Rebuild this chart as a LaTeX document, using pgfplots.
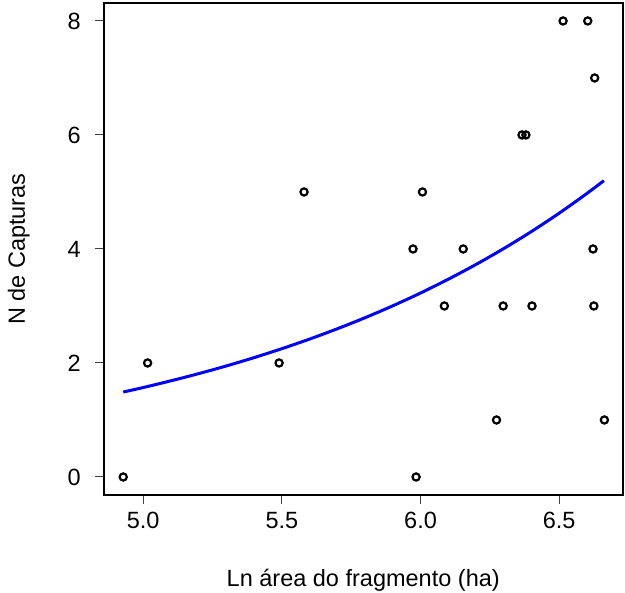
\documentclass[border=0pt]{standalone}
\usepackage{pgfplots}
\pgfplotsset{compat=1.18}
\usepackage{fontspec}
\setmainfont{Liberation Sans}
\begin{document}
\begin{tikzpicture}[font=\fontsize{23.5pt}{28pt}\selectfont]
\useasboundingbox (-103.8pt,-98pt) rectangle (521.2pt,495pt);
\begin{axis}[
  at={(0pt,0pt)}, anchor=south west,
  scale only axis, width=518.9pt, height=491.7pt,
  xmin=4.858, xmax=6.729, ymin=-0.316, ymax=8.31,
  xtick={5,5.5,6,6.5}, ytick={0,2,4,6,8},
  xticklabels={5.0,5.5,6.0,6.5},
  tick align=outside,
  major tick length=9pt,
  major tick style={line width=1pt, black!75},
  axis line style={line width=2.3pt, black},
  /pgf/number format/assume math mode=true,
  xticklabel style={anchor=north, inner sep=0pt, yshift=-8pt},
  yticklabel style={anchor=east, inner sep=0pt, xshift=-14pt},
  every axis x label/.style={at={(axis description cs:0.5,0)}, anchor=base, yshift=-91.7pt},
  every axis y label/.style={at={(axis description cs:0,0.5)}, xshift=-79pt, rotate=90, anchor=base},
  xlabel={Ln área do fragmento (ha)},
  ylabel={N de Capturas},
  clip=false,
  xtick pos=bottom, ytick pos=left,
]
\draw[line width=2.3pt, black] (rel axis cs:0,0) rectangle (rel axis cs:1,1);
\addplot[only marks, mark=o, mark size=3.6pt, mark options={line width=2.2pt, black}] coordinates {
(4.928,0) (5.016,2) (5.490,2) (5.580,5) (5.973,4) (5.984,0) (6.007,5)
(6.086,3) (6.154,4) (6.274,1) (6.298,3) (6.366,6) (6.380,6) (6.402,3)
(6.514,8) (6.603,8) (6.628,7) (6.622,4) (6.625,3) (6.663,1)
};
\addplot[blue, line width=3pt, smooth] coordinates {
(4.928,1.490) (5.0,1.569) (5.1,1.687) (5.2,1.813) (5.3,1.948) (5.4,2.094)
(5.5,2.251) (5.6,2.419) (5.7,2.600) (5.8,2.794) (5.9,3.003) (6.0,3.227)
(6.1,3.469) (6.2,3.728) (6.3,4.007) (6.4,4.306) (6.5,4.628) (6.6,4.974)
(6.661,5.198)
};
\end{axis}
\end{tikzpicture}
\end{document}
